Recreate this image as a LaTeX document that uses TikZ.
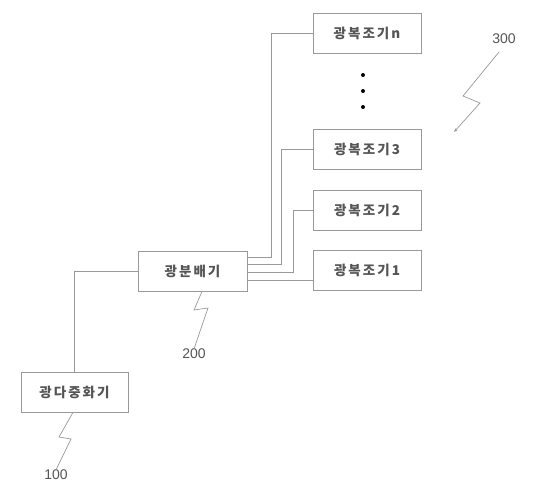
\documentclass[tikz,border=0pt]{standalone}
\usepackage{fontspec}
\newfontfamily\kr{Noto Sans CJK KR}[LetterSpace=15]
\newfontfamily\numf{Liberation Sans}
\usetikzlibrary{calc,arrows.meta}
\definecolor{linegray}{HTML}{999999}
\definecolor{txtgray}{HTML}{555555}
\begin{document}
\begin{tikzpicture}[x=1pt,y=-1pt,
  blk/.style={draw=linegray,line width=0.8pt,fill=white,minimum width=108pt,minimum height=40pt,inner sep=0pt,
    font=\kr\bfseries\fontsize{13.5}{15}\selectfont,text=txtgray},
  wire/.style={draw=linegray,line width=0.8pt},
  refnum/.style={font=\numf\fontsize{14}{16}\selectfont,text=txtgray,inner sep=0pt},
  zig/.style={draw=linegray,line width=0.7pt}]
\useasboundingbox (0,0) rectangle (539,498);
\fill[white] (0,0) rectangle (539,498);
% boxes
\node[blk] (bn) at (367,33.5) {광복조기n};
\node[blk] (b3) at (367,149.5) {광복조기3};
\node[blk] (b2) at (367,210) {광복조기2};
\node[blk] (b1) at (367,270.5) {광복조기1};
\node[blk,minimum width=109pt] (sp) at (192.5,271) {광분배기};
\node[blk,minimum width=107pt] (mx) at (74.5,392) {광다중화기};
% dots
\fill[black] (363,75) circle (2pt) (363,91) circle (2pt) (363,107) circle (2pt);
% connections
\coordinate (s4) at ($(sp.east)+(0,14pt)$);
\coordinate (s3) at ($(sp.east)+(0,7pt)$);
\coordinate (s2) at ($(sp.east)+(0,-1pt)$);
\coordinate (s1) at ($(sp.east)+(0,-9pt)$);
\draw[wire] (mx.north) |- (sp.west);
\draw[wire] (s4) -| ($(bn.west)+(-41pt,0)$) -- (bn.west);
\draw[wire] (s3) -| ($(b3.west)+(-31pt,0)$) -- (b3.west);
\draw[wire] (s2) -| ($(b2.west)+(-19pt,0)$) -- (b2.west);
\draw[wire] (s1) -- (s1 -| b1.west);
% reference labels
\node[refnum] (l300) at (504,39) {300};
\node[refnum] (l200) at (194,354) {200};
\node[refnum] (l100) at (56,475) {100};
\coordinate (a300) at (454,132);
\draw[zig,-{Stealth[length=4pt,width=3pt]}] (499,52) -- (463,96) -- (480,103) -- (a300);
\draw[zig] ($(sp.south)+(9.5pt,0)$) -- (194,310) -- (208,308) -- (l200.north);
\draw[zig] ($(mx.south)+(-1.5pt,0)$) -- (59,437) -- (71,439) -- (l100.north);
\end{tikzpicture}
\end{document}
